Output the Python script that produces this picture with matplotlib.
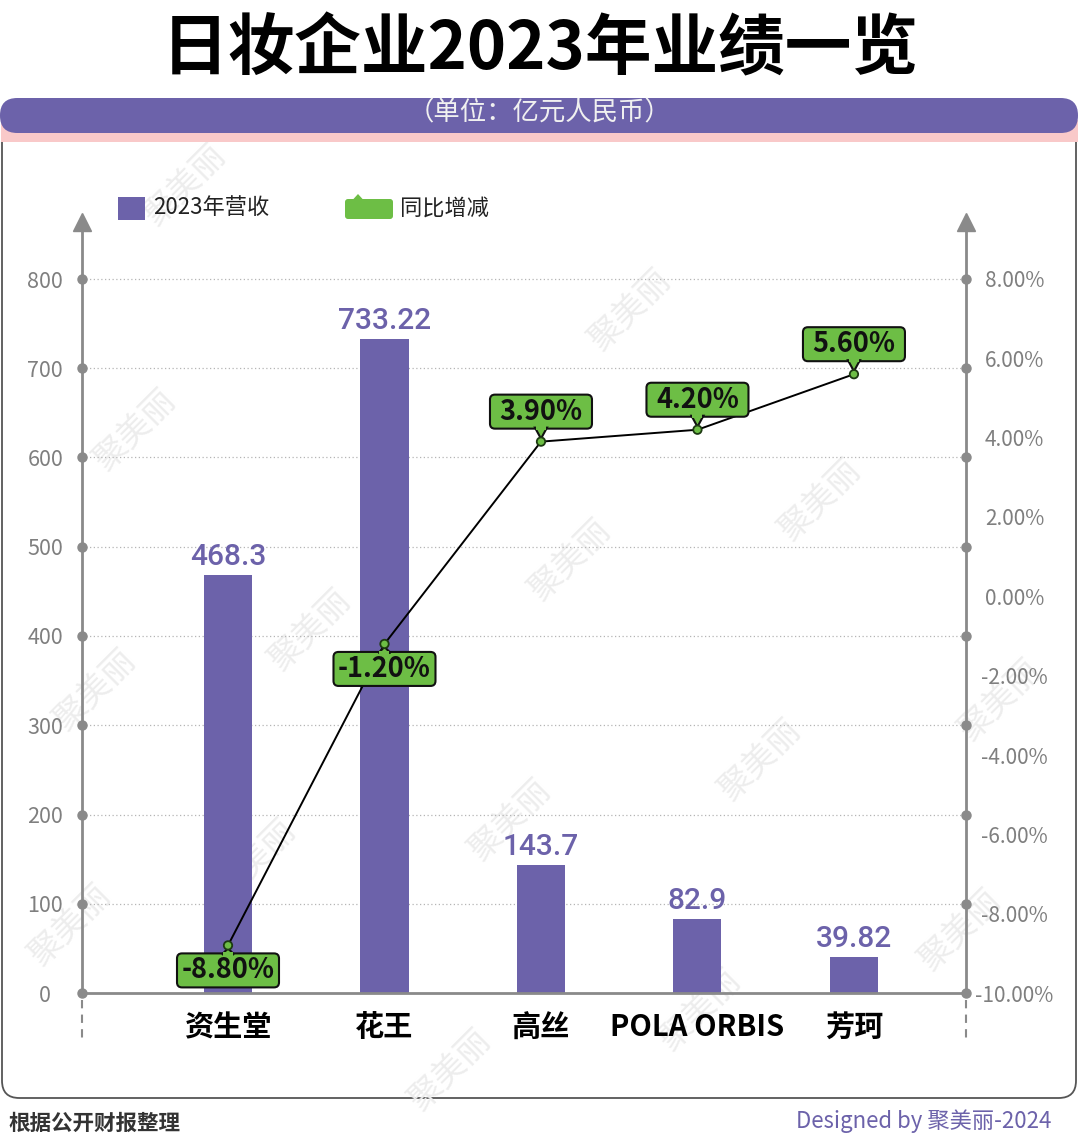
import matplotlib
matplotlib.use("Agg")
import matplotlib.pyplot as plt
from matplotlib.patches import FancyBboxPatch, Rectangle, Polygon, Circle

plt.rcParams['font.family'] = ['Noto Sans CJK SC', 'DejaVu Sans']

# ---------------- data ----------------
companies = ["资生堂", "花王", "高丝", "POLA ORBIS", "芳珂"]
revenue = [468.3, 733.22, 143.7, 82.9, 39.82]
revenue_labels = ["468.3", "733.22", "143.7", "82.9", "39.82"]
yoy = [-8.80, -1.20, 3.90, 4.20, 5.60]
yoy_labels = ["-8.80%", "-1.20%", "3.90%", "4.20%", "5.60%"]
left_ticks = [0, 100, 200, 300, 400, 500, 600, 700, 800]
right_ticks = [-10, -8, -6, -4, -2, 0, 2, 4, 6, 8]
right_tick_labels = ["-10.00%", "-8.00%", "-6.00%", "-4.00%", "-2.00%",
                     "0.00%", "2.00%", "4.00%", "6.00%", "8.00%"]

title = "日妆企业2023年业绩一览"
subtitle = "（单位：亿元人民币）"
legend_bar = "2023年营收"
legend_line = "同比增减"
source = "根据公开财报整理"
credit = "Designed by 聚美丽-2024"

PURPLE = "#6c62aa"
GREEN = "#6dbe45"
GRAY = "#8a8a8a"
PINK = "#f9c9c9"

W, H = 1080, 1140
fig = plt.figure(figsize=(W / 100, H / 100), dpi=100)
fig.patch.set_facecolor("white")


def fx(px):
    return px / W


def fy(py):
    return 1 - py / H


# ---------------- background frame ----------------
panel = FancyBboxPatch((fx(2), fy(1098)), fx(1076) - fx(2), fy(120) - fy(1098),
                       boxstyle="round,pad=0,rounding_size=0.016",
                       transform=fig.transFigure, fc="white", ec="#555555",
                       lw=1.3, zorder=0, mutation_aspect=W / H)
fig.patches.append(panel)
fig.patches.append(Rectangle((fx(1), fy(142)), fx(1078) - fx(1), fy(120) - fy(142),
                             transform=fig.transFigure, fc=PINK, ec="none", zorder=1))
header = FancyBboxPatch((fx(0), fy(133)), fx(1078), fy(98) - fy(133),
                        boxstyle="round,pad=0,rounding_size=0.016",
                        transform=fig.transFigure, fc=PURPLE, ec="none", zorder=2,
                        mutation_aspect=W / H)
fig.patches.append(header)

fig.text(0.5, fy(50), title, ha="center", va="center", fontsize=48,
         fontweight="black", color="black")
fig.text(0.5, fy(113), subtitle, ha="center", va="center", fontsize=19,
         fontweight="medium", color="#f0f0f0", zorder=3)

# watermarks
wm_pos = [(185, 185), (630, 310), (135, 430), (820, 500), (570, 560), (310, 630),
          (95, 690), (1000, 700), (760, 760), (510, 820), (255, 860), (70, 925),
          (960, 930), (700, 1010), (450, 1070)]
for (x, y) in wm_pos:
    fig.text(fx(x), fy(y), "聚美丽", rotation=45, ha="center", va="center",
             fontsize=24, color="#ededed", zorder=0.5)

# ---------------- axes ----------------
x0_px, x1_px = 82, 966
y0_px, ytop_px = 993, 222
ppu = (993 - 279) / 800.0
ymax = (y0_px - ytop_px) / ppu
ax = fig.add_axes([fx(x0_px), fy(y0_px), fx(x1_px) - fx(x0_px), fy(ytop_px) - fy(y0_px)])
ax.set_facecolor("none")
ax.set_zorder(3)
ax.set_xlim(-0.933, 4.716)
ax.set_ylim(0, ymax)

ax2 = ax.twinx()
ax2.set_ylim(-10, -10 + ymax * 18 / 800.0)

for a in (ax, ax2):
    for s in a.spines.values():
        s.set_visible(False)

xs = list(range(len(companies)))
ax.bar(xs, revenue, width=0.307, color=PURPLE, zorder=2)

# gridlines
xl, xr = ax.get_xlim()
for t in left_ticks[1:]:
    ax.plot([xl, xr], [t, t], color="#b5b5b5", lw=0.9, ls=(0, (1, 2)), zorder=1)
# axis lines
ax.plot([xl, xl], [0, ymax], color=GRAY, lw=2, zorder=3, clip_on=False)
ax.plot([xr, xr], [0, ymax], color=GRAY, lw=2, zorder=3, clip_on=False)
ax.plot([xl, xr], [0, 0], color=GRAY, lw=2, zorder=3, clip_on=False)
ax.plot([xl, xr], [ymax, ymax], ls="none", marker="^", ms=13, color=GRAY,
        clip_on=False, zorder=3)
ax.plot([xl] * len(left_ticks), left_ticks, ls="none", marker="o", ms=6.5,
        color=GRAY, clip_on=False, zorder=4)
ax.plot([xr] * len(left_ticks), left_ticks, ls="none", marker="o", ms=6.5,
        color=GRAY, clip_on=False, zorder=4)
dash_lo, dash_hi = -7 / ppu, -48 / ppu
for xx in (xl, xr):
    ax.plot([xx, xx], [dash_lo, dash_hi], color=GRAY, lw=1.5, ls=(0, (4, 3)),
            clip_on=False, zorder=3)

ax.set_xticks(xs)
ax.set_xticklabels(companies, fontsize=21, fontweight="bold", color="black")
ax.tick_params(axis="x", length=0, pad=14)
ax.set_yticks(left_ticks)
ax.set_yticklabels([str(t) for t in left_ticks], fontsize=15.5, color="#7f7f7f")
ax.tick_params(axis="y", length=0, pad=26.5)
for lab in ax.get_yticklabels():
    lab.set_horizontalalignment("center")
ax2.set_yticks(right_ticks)
ax2.set_yticklabels(right_tick_labels, fontsize=15, color="#7f7f7f")
ax2.tick_params(axis="y", length=0, pad=35)
for lab in ax2.get_yticklabels():
    lab.set_horizontalalignment("center")

# bar value labels
for i, (v, lab) in enumerate(zip(revenue, revenue_labels)):
    ax.annotate(lab, (i, v), xytext=(0, 18), textcoords="offset pixels",
                ha="center", va="center", fontsize=21.5, fontweight="medium",
                family=["Roboto", "DejaVu Sans"], color=PURPLE, zorder=5)

# line
ax2.plot(xs, yoy, color="black", lw=1.4, zorder=6)
ax2.set_zorder(4)
ax2.set_facecolor("none")

# callout labels
fig.canvas.draw()
BW, BH = 102, 34
for i, (v, lab) in enumerate(zip(yoy, yoy_labels)):
    px, py = ax2.transData.transform((i, v))
    if v >= 0:
        by = py + 13
        tri = [(px - 6, by + 1), (px + 6, by + 1), (px, py + 3)]
        tri_cover = Rectangle((px - 5, by - 1), 10, 4)
    else:
        by = py - 8 - BH
        tri = [(px - 6, by + BH - 1), (px + 6, by + BH - 1), (px, py - 3)]
        tri_cover = Rectangle((px - 5, by + BH - 3), 10, 4)
    box = FancyBboxPatch((px - BW / 2, by), BW, BH,
                         boxstyle="round,pad=0,rounding_size=5",
                         transform=None, fc=GREEN, ec="#111111", lw=1.5, zorder=7)
    fig.patches.append(box)
    fig.patches.append(Polygon(tri, closed=True, transform=None, fc=GREEN,
                               ec="#111111", lw=1.5, zorder=8))
    tri_cover.set_transform(None)
    tri_cover.set_facecolor(GREEN)
    tri_cover.set_edgecolor("none")
    tri_cover.set_zorder(9)
    fig.patches.append(tri_cover)
    fig.patches.append(Circle((px, py), 4.2, transform=None, fc=GREEN,
                              ec="#1d3a12", lw=1.3, zorder=10))
    fig.text(px / W, (by + BH / 2) / H, lab, ha="center", va="center",
             fontsize=19.5, fontweight="bold", color="#111111", zorder=11)

# legend
fig.patches.append(Rectangle((fx(118), fy(220)), fx(145) - fx(118), fy(197) - fy(220),
                             transform=fig.transFigure, fc=PURPLE, ec="none"))
fig.text(fx(153), fy(208), legend_bar, ha="left", va="center", fontsize=16,
         color="#222222")
fig.patches.append(FancyBboxPatch((345, H - 219), 48, 20,
                                  boxstyle="round,pad=0,rounding_size=3",
                                  transform=None, fc=GREEN, ec="none"))
fig.patches.append(Polygon([(353, H - 199.5), (363, H - 199.5), (358, H - 194)],
                           closed=True, transform=None, fc=GREEN, ec="none"))
fig.text(fx(400), fy(208), legend_line, ha="left", va="center", fontsize=16,
         color="#222222")

# footer
fig.text(fx(8), fy(1123), source, ha="left", va="center", fontsize=15.5,
         fontweight="bold", color="#333333")
fig.text(fx(1052), fy(1121), credit, ha="right", va="center", fontsize=16,
         fontweight="medium", color=PURPLE)

fig.savefig("out.png", dpi=100, facecolor="white")
